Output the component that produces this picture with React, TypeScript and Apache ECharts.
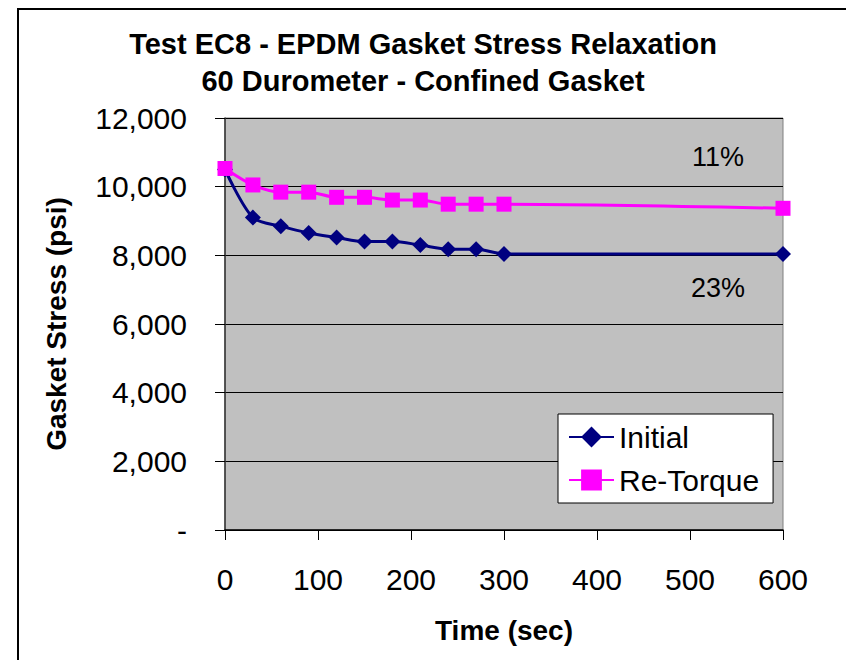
import React, { useEffect, useRef } from "react";
import * as echarts from "echarts";

const titleLines = ["Test EC8 - EPDM Gasket Stress Relaxation", "60 Durometer - Confined Gasket"];
const timeSec = [0, 30, 60, 90, 120, 150, 180, 210, 240, 270, 300, 600];
const initialStress = [10500, 9100, 8850, 8650, 8520, 8400, 8400, 8300, 8180, 8180, 8040, 8040];
const retorqueStress = [10530, 10050, 9840, 9840, 9690, 9690, 9610, 9610, 9490, 9490, 9490, 9370];
const seriesNames = ["Initial", "Re-Torque"];
const annotations = ["11%", "23%"];

const FONT = "'Liberation Sans', Arial, sans-serif";

export default function App() {
  const ref = useRef<HTMLDivElement>(null);
  useEffect(() => {
    if (!ref.current) return;
    const chart = echarts.init(ref.current, undefined, { renderer: "svg" });
    const pair = (ys: number[]) => timeSec.map((t, i) => [t, ys[i]]);
    chart.setOption({
      animation: false,
      backgroundColor: "#ffffff",
      title: {
        text: titleLines.join("\n"),
        left: "center",
        top: 20,
        textStyle: {
          fontFamily: FONT,
          fontWeight: "bold",
          fontSize: 29,
          lineHeight: 37,
          color: "#000",
        },
      },
      grid: {
        left: 225,
        right: 63,
        top: 118,
        bottom: 130,
        show: true,
        backgroundColor: "#C0C0C0",
        borderColor: "#808080",
        borderWidth: 1,
      },
      xAxis: {
        type: "value",
        min: 0,
        max: 600,
        interval: 100,
        name: "Time (sec)",
        nameLocation: "middle",
        nameGap: 86,
        nameTextStyle: { fontFamily: FONT, fontWeight: "bold", fontSize: 28, color: "#000" },
        axisLine: { show: true, lineStyle: { color: "#000", width: 1.5 } },
        axisTick: { show: true, inside: false, length: 10, lineStyle: { color: "#000" } },
        axisLabel: { fontFamily: FONT, fontSize: 30, color: "#000", margin: 34 },
        splitLine: { show: false },
      },
      yAxis: {
        type: "value",
        min: 0,
        max: 12000,
        interval: 2000,
        name: "Gasket Stress (psi)",
        nameLocation: "middle",
        nameGap: 155,
        nameRotate: 90,
        nameTextStyle: { fontFamily: FONT, fontWeight: "bold", fontSize: 28, color: "#000" },
        axisLine: { show: true, lineStyle: { color: "#333", width: 1.5 } },
        axisTick: { show: true, inside: false, length: 10, lineStyle: { color: "#000" } },
        axisLabel: {
          fontFamily: FONT,
          fontSize: 30,
          color: "#000",
          margin: 38,
          formatter: (v: number) => (v === 0 ? "-" : v.toLocaleString("en-US")),
        },
        splitLine: { show: true, lineStyle: { color: "#000", width: 1 } },
      },
      legend: {
        orient: "vertical",
        left: 558,
        top: 414,
        data: seriesNames,
        backgroundColor: "#ffffff",
        borderColor: "#000",
        borderWidth: 1,
        borderRadius: 0,
        padding: [8, 14, 8, 10],
        itemWidth: 45,
        itemHeight: 26,
        itemGap: 13,
        textStyle: { fontFamily: FONT, fontSize: 30, color: "#000", padding: [0, 0, 0, 0] },
      },
      series: [
        {
          name: seriesNames[0],
          type: "line",
          data: pair(initialStress),
          smooth: 0.3,
          symbol: "diamond",
          symbolSize: 16,
          lineStyle: { color: "#000080", width: 3 },
          itemStyle: { color: "#000080" },
          z: 3,
        },
        {
          name: seriesNames[1],
          type: "line",
          data: pair(retorqueStress),
          smooth: 0.3,
          symbol: "rect",
          symbolSize: 15,
          lineStyle: { color: "#FF00FF", width: 3 },
          itemStyle: { color: "#FF00FF" },
          z: 4,
        },
      ],
      graphic: [
        {
          type: "rect",
          silent: true,
          z: -10,
          shape: { x: 18, y: 9, width: 900, height: 700 },
          style: { fill: "none", stroke: "#000", lineWidth: 2 },
        },
        {
          type: "text",
          x: 718,
          y: 157,
          style: {
            text: annotations[0],
            fontFamily: FONT,
            fontSize: 27,
            fill: "#000",
            textAlign: "center",
            textVerticalAlign: "middle",
          },
          z: 10,
        },
        {
          type: "text",
          x: 718,
          y: 288,
          style: {
            text: annotations[1],
            fontFamily: FONT,
            fontSize: 27,
            fill: "#000",
            textAlign: "center",
            textVerticalAlign: "middle",
          },
          z: 10,
        },
      ],
    });
    return () => chart.dispose();
  }, []);
  return (
    <div
      ref={ref}
      style={{ position: "absolute", left: 0, top: 0, width: 846, height: 660 }}
    />
  );
}
